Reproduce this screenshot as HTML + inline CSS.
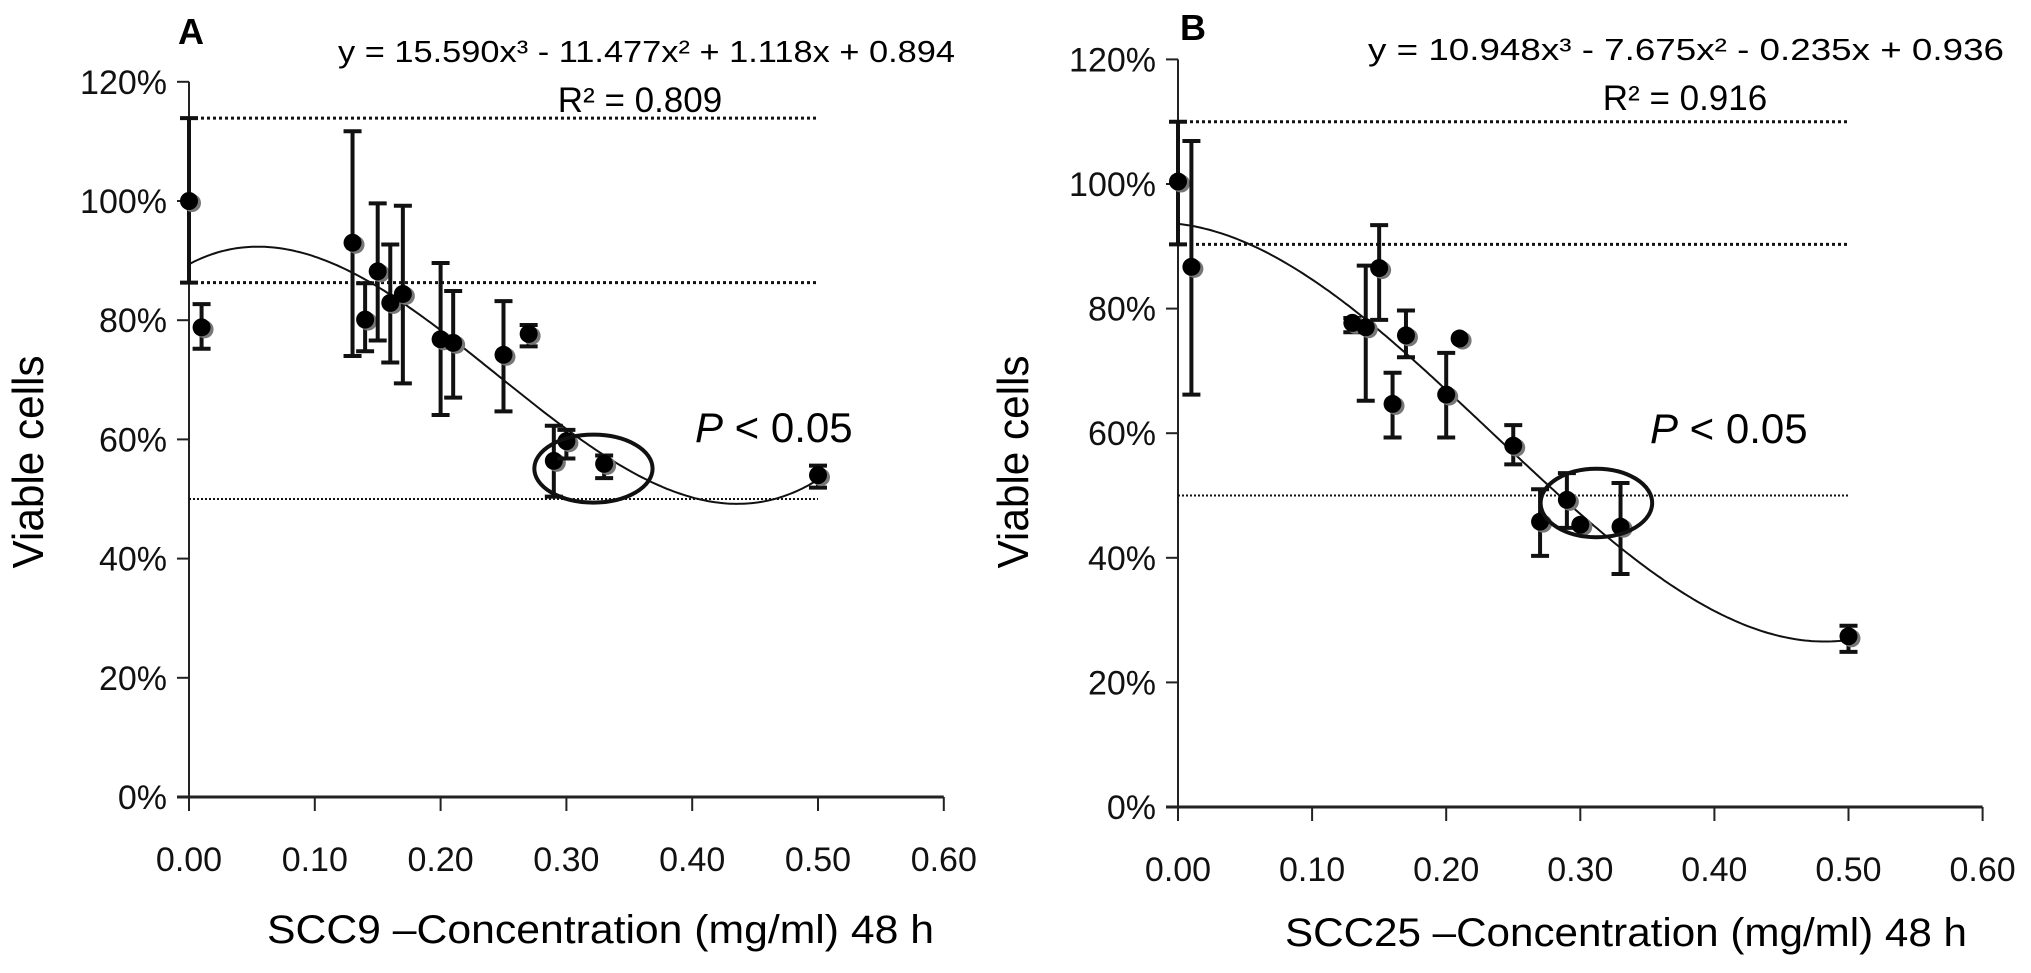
<!DOCTYPE html>
<html><head><meta charset="utf-8"><style>
html,body{margin:0;padding:0;background:#fff;}
svg{display:block;font-family:"Liberation Sans",sans-serif;}
</style></head><body>
<svg id="chart" width="2031" height="973" viewBox="0 0 2031 973" xmlns="http://www.w3.org/2000/svg"></svg>
<script>
// ---- Panel A data (SCC9) ----
const xTicks = [0, 0.1, 0.2, 0.3, 0.4, 0.5, 0.6];
const xTickLabels = ["0.00","0.10","0.20","0.30","0.40","0.50","0.60"];
const yTicks = [0, 20, 40, 60, 80, 100, 120];
const yTickLabels = ["0%","20%","40%","60%","80%","100%","120%"];

const concA = [0, 0.01, 0.13, 0.14, 0.15, 0.16, 0.17, 0.20, 0.21, 0.25, 0.27, 0.29, 0.30, 0.33, 0.50];
const viableA = [100, 78.8, 93, 80.1, 88.2, 82.9, 84.4, 76.8, 76.2, 74.2, 77.7, 56.4, 59.7, 55.9, 54];
const errHiA = [113.9, 82.7, 111.7, 86.2, 99.6, 92.7, 99.2, 89.6, 84.9, 83.2, 79.2, 62.3, 61.6, 57.3, 55.6];
const errLoA = [86.3, 75.2, 74, 74.8, 76.6, 72.9, 69.4, 64.1, 67, 64.7, 75.6, 50.4, 56.8, 53.5, 51.9];
const fitA = [15.590, -11.477, 1.118, 0.894];
const refLinesA = [113.9, 86.3, 50];

// ---- Panel B data (SCC25) ----
const concB = [0, 0.01, 0.13, 0.14, 0.15, 0.16, 0.17, 0.20, 0.21, 0.25, 0.27, 0.29, 0.30, 0.33, 0.50];
const viableB = [100.4, 86.7, 77.7, 77, 86.5, 64.7, 75.7, 66.2, 75.2, 58, 45.8, 49.3, 45.3, 45, 27.4];
const errHiB = [110, 106.9, 78.5, 86.9, 93.4, 69.7, 79.7, 72.9, 75.2, 61.3, 51, 53.6, 45.3, 52, 29.1];
const errLoB = [90.3, 66.2, 76.2, 65.2, 78.2, 59.3, 72.2, 59.3, 75.2, 55, 40.3, 44.8, 45.3, 37.4, 24.9];
const fitB = [10.948, -7.675, -0.235, 0.936];
const refLinesB = [110, 90.3, 50];

const NS = "http://www.w3.org/2000/svg";
const svg = document.getElementById("chart");
function mk(tag, attrs, parent){
  const e = document.createElementNS(NS, tag);
  for (const k in attrs) e.setAttribute(k, attrs[k]);
  (parent||svg).appendChild(e);
  return e;
}

function panel(cfg){
  const g = mk("g", {});
  
  
  const X = v => cfg.x0 + v * cfg.xs;
  const Y = v => cfg.y0 - v * cfg.ys;
  const ax = mk("line", {x1:X(0), y1:Y(0), x2:X(0), y2:Y(120), stroke:"#222", "stroke-width":2}, g);
  
  
  const axx = mk("line", {x1:X(0)-12, y1:Y(0), x2:X(0.6), y2:Y(0), stroke:"#222", "stroke-width":3}, g);
  
  
  yTicks.forEach((t,i)=>{
    mk("line",{x1:X(0)-12,y1:Y(t),x2:X(0),y2:Y(t),stroke:"#222","stroke-width":2},g);
    const tx = mk("text",{x:X(0)-22,y:Y(t)+12,"text-anchor":"end","font-size":34,fill:"#111"},g);
    tx.textContent = yTickLabels[i];
    
    
  });
  xTicks.forEach((t,i)=>{
    mk("line",{x1:X(t),y1:Y(0),x2:X(t),y2:Y(0)+14,stroke:"#222","stroke-width":2},g);
    const tx = mk("text",{x:X(t),y:cfg.y0+74,"text-anchor":"middle","font-size":34,fill:"#111"},g);
    tx.textContent = xTickLabels[i];
    
    
  });
  cfg.refs.forEach((r,i)=>{
    const l = mk("line",{x1:X(0),y1:Y(r),x2:X(0.5),y2:Y(r),stroke:"#111","stroke-width":i<2?3:2,"stroke-dasharray":i<2?"3 3":"2 2"},g);
    
    
  });
  const c = cfg.fit;
  let d = "";
  for (let k=0;k<=200;k++){
    const xv = 0.5*k/200;
    const yv = (c[0]*xv*xv*xv + c[1]*xv*xv + c[2]*xv + c[3])*100;
    d += (k?"L":"M") + X(xv).toFixed(1) + " " + Y(yv).toFixed(1);
  }
  const fp = mk("path",{d:d,fill:"none",stroke:"#111","stroke-width":2},g);
  
  
  cfg.xs_.forEach((xv,i)=>{
    const eb = mk("g",{},g);
    
    
    const hi = cfg.hi[i], lo = cfg.lo[i];
    if (hi - lo > 0.5){
      mk("line",{x1:X(xv),y1:Y(hi),x2:X(xv),y2:Y(lo),stroke:"#111","stroke-width":4},eb);
      mk("line",{x1:X(xv)-9,y1:Y(hi),x2:X(xv)+9,y2:Y(hi),stroke:"#111","stroke-width":4},eb);
      mk("line",{x1:X(xv)-9,y1:Y(lo),x2:X(xv)+9,y2:Y(lo),stroke:"#111","stroke-width":4},eb);
    }
    mk("circle",{cx:X(xv)+3,cy:Y(cfg.v[i])+2,r:9,fill:"#777"},g);
    const p = mk("circle",{cx:X(xv),cy:Y(cfg.v[i]),r:9,fill:"#000"},g);
    
    
  });
  const el = mk("ellipse",{cx:X(cfg.ell[0]),cy:Y(cfg.ell[1]),rx:cfg.ell[2]*cfg.xs,ry:cfg.ell[3]*cfg.ys,fill:"none",stroke:"#111","stroke-width":4},g);
  
  
}

panel({id:"a", x0:189, y0:797, xs:1258, ys:5.96, refs:refLinesA, fit:fitA, xs_:concA, v:viableA, hi:errHiA, lo:errLoA, ell:[0.3215,55.1,0.047,5.7]});
panel({id:"b", x0:1178, y0:807, xs:1341, ys:6.23, refs:refLinesB, fit:fitB, xs_:concB, v:viableB, hi:errHiB, lo:errLoB, ell:[0.312,48.8,0.0416,5.5]});
</script>
<div style="position:absolute;left:0;top:0;width:2031px;height:973px;pointer-events:none;">
<svg width="2031" height="973" style="position:absolute;left:0;top:0;font-family:'Liberation Sans',sans-serif;">
  <text x="178" y="44" font-size="36" font-weight="bold">A</text>
  <text x="338" y="62" font-size="31" textLength="617" lengthAdjust="spacingAndGlyphs">y = 15.590x³ - 11.477x² + 1.118x + 0.894</text>
  <text x="640" y="112" font-size="35" text-anchor="middle">R² = 0.809</text>
  <text x="695" y="442" font-size="42"><tspan font-style="italic">P</tspan> &lt; 0.05</text>
  <text transform="translate(43,462) rotate(-90)" text-anchor="middle" font-size="44" textLength="213" lengthAdjust="spacingAndGlyphs">Viable cells</text>
  <text x="267" y="943" font-size="40" textLength="667" lengthAdjust="spacingAndGlyphs">SCC9 –Concentration (mg/ml) 48 h</text>

  <text x="1180" y="40" font-size="36" font-weight="bold">B</text>
  <text x="1368" y="60" font-size="31" textLength="636" lengthAdjust="spacingAndGlyphs">y = 10.948x³ - 7.675x² - 0.235x + 0.936</text>
  <text x="1685" y="110" font-size="35" text-anchor="middle">R² = 0.916</text>
  <text x="1650" y="443" font-size="42"><tspan font-style="italic">P</tspan> &lt; 0.05</text>
  <text transform="translate(1028,462) rotate(-90)" text-anchor="middle" font-size="44" textLength="213" lengthAdjust="spacingAndGlyphs">Viable cells</text>
  <text x="1285" y="946" font-size="40" textLength="682" lengthAdjust="spacingAndGlyphs">SCC25 –Concentration (mg/ml) 48 h</text>
</svg>
</div>
</body></html>
